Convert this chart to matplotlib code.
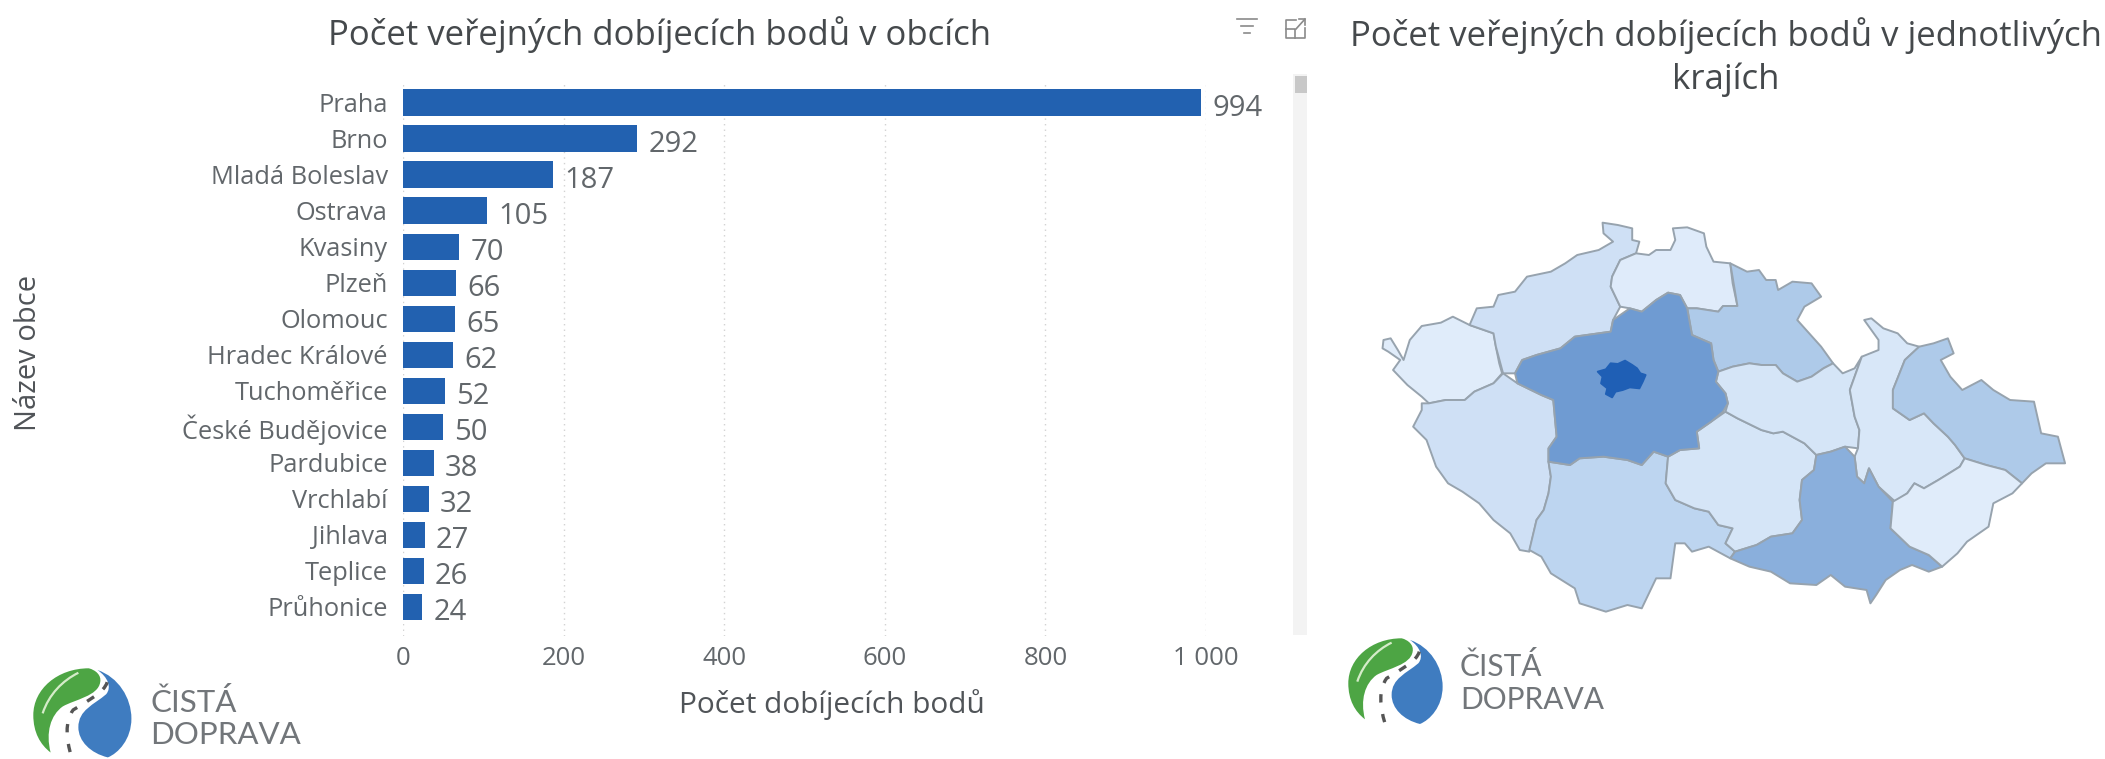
import matplotlib
matplotlib.use("Agg")
import matplotlib.pyplot as plt
from matplotlib.patches import Polygon, PathPatch
from matplotlib.path import Path

plt.rcParams["font.family"] = ["Open Sans", "DejaVu Sans"]

TEXT = "#62676b"
TITLE = "#45494c"
LABEL = "#505458"
BAR = "#2261b0"

cities = ["Praha", "Brno", "Mladá Boleslav", "Ostrava", "Kvasiny", "Plzeň", "Olomouc", "Hradec Králové",
          "Tuchoměřice", "České Budějovice", "Pardubice", "Vrchlabí", "Jihlava", "Teplice", "Průhonice"]
points = [994, 292, 187, 105, 70, 66, 65, 62, 52, 50, 38, 32, 27, 26, 24]
x_ticks = [0, 200, 400, 600, 800, 1000]
x_tick_labels = ["0", "200", "400", "600", "800", "1 000"]

# region outlines, units are the map panel's own
karlovarsky = [(70, 420), (85, 415), (100, 450), (112, 480), (125, 420), (150, 378), (190, 368), (215, 350), (250, 375), (300, 400), (305, 440), (312, 490), (318, 520), (300, 550), (260, 575), (240, 600), (200, 600), (165, 610), (150, 590), (120, 555), (90, 510), (105, 480), (80, 455), (68, 445)]
ustecky = [(250, 375), (265, 325), (300, 320), (310, 285), (345, 275), (370, 230), (420, 215), (450, 190), (475, 165), (520, 150), (550, 125), (530, 100), (528, 68), (560, 75), (590, 85), (590, 120), (605, 125), (598, 160), (565, 180), (548, 230), (545, 260), (565, 320), (550, 360), (545, 395), (470, 410), (440, 445), (390, 465), (360, 480), (345, 520), (320, 520), (305, 440), (300, 400)]
liberecky = [(565, 180), (598, 160), (625, 165), (640, 150), (670, 150), (680, 120), (675, 85), (705, 82), (740, 100), (745, 140), (760, 185), (795, 190), (800, 250), (810, 318), (780, 318), (770, 335), (725, 325), (705, 325), (690, 285), (665, 278), (640, 300), (610, 335), (585, 325), (565, 320), (545, 260), (548, 230)]
kralovehradecky = [(795, 190), (830, 215), (855, 210), (870, 240), (890, 240), (895, 270), (925, 245), (965, 250), (985, 290), (950, 320), (935, 360), (960, 400), (985, 440), (1010, 490), (990, 505), (965, 530), (935, 545), (905, 520), (890, 495), (860, 495), (835, 490), (800, 500), (770, 515), (760, 480), (755, 430), (715, 405), (705, 325), (725, 325), (770, 335), (780, 318), (810, 318)]
stredocesky = [(345, 520), (360, 480), (390, 465), (440, 445), (470, 410), (545, 395), (550, 360), (585, 325), (610, 335), (640, 300), (665, 278), (690, 285), (705, 325), (715, 405), (755, 430), (760, 480), (770, 515), (765, 545), (785, 580), (790, 610), (780, 635), (755, 665), (725, 695), (730, 745), (690, 750), (665, 770), (635, 755), (610, 795), (580, 780), (530, 770), (480, 775), (460, 795), (415, 785), (415, 745), (432, 710), (425, 600), (400, 585), (350, 550)]
praha = [(518, 515), (535, 508), (545, 490), (560, 492), (575, 482), (590, 495), (600, 505), (607, 520), (618, 525), (612, 545), (605, 565), (585, 562), (570, 570), (555, 575), (548, 592), (535, 582), (538, 565), (525, 550), (528, 530)]
plzensky = [(150, 610), (165, 610), (200, 600), (240, 600), (260, 575), (300, 550), (320, 520), (350, 550), (400, 585), (425, 600), (432, 710), (415, 745), (415, 785), (420, 830), (415, 880), (405, 930), (390, 960), (375, 1055), (355, 1050), (335, 1000), (300, 960), (270, 910), (235, 875), (205, 850), (180, 800), (160, 720), (132, 680), (150, 630)]
jihocesky = [(415, 785), (460, 795), (480, 775), (530, 770), (580, 780), (610, 795), (635, 755), (665, 770), (660, 850), (680, 900), (720, 925), (750, 935), (770, 975), (800, 985), (785, 1030), (805, 1055), (795, 1075), (750, 1040), (715, 1055), (700, 1030), (680, 1030), (670, 1135), (640, 1135), (625, 1180), (610, 1225), (580, 1215), (535, 1235), (480, 1210), (470, 1165), (420, 1120), (400, 1070), (375, 1050), (390, 960), (405, 930), (415, 880), (420, 830)]
vysocina = [(665, 770), (690, 750), (730, 745), (725, 695), (755, 665), (785, 635), (810, 655), (860, 690), (885, 700), (905, 695), (950, 730), (975, 765), (970, 810), (945, 840), (940, 900), (945, 960), (925, 1000), (880, 1010), (850, 1035), (805, 1055), (785, 1030), (800, 985), (770, 975), (750, 935), (720, 925), (680, 900), (660, 850)]
pardubicky = [(770, 515), (800, 500), (835, 490), (860, 495), (890, 495), (905, 520), (935, 545), (965, 530), (990, 505), (1010, 490), (1030, 520), (1055, 505), (1070, 470), (1045, 570), (1055, 650), (1065, 690), (1062, 745), (1035, 740), (1005, 755), (975, 765), (950, 730), (905, 695), (885, 700), (860, 690), (810, 655), (785, 635), (790, 610), (785, 580), (765, 545)]
olomoucky = [(1075, 360), (1090, 355), (1115, 385), (1145, 400), (1165, 430), (1190, 440), (1160, 480), (1135, 570), (1135, 625), (1170, 660), (1200, 640), (1220, 670), (1250, 710), (1265, 735), (1285, 775), (1275, 800), (1230, 840), (1200, 865), (1180, 850), (1165, 880), (1140, 905), (1105, 860), (1085, 805), (1075, 850), (1060, 830), (1055, 770), (1062, 745), (1065, 690), (1055, 650), (1045, 570), (1070, 470), (1105, 450), (1105, 420)]
moravskoslezsky = [(1190, 440), (1220, 430), (1250, 415), (1262, 460), (1235, 480), (1255, 530), (1280, 570), (1320, 540), (1345, 570), (1380, 600), (1430, 605), (1445, 700), (1480, 710), (1495, 790), (1455, 790), (1425, 820), (1405, 850), (1370, 810), (1330, 795), (1285, 775), (1265, 735), (1250, 710), (1220, 670), (1200, 640), (1170, 660), (1135, 625), (1135, 570), (1160, 480)]
jihomoravsky = [(975, 765), (1005, 755), (1035, 740), (1055, 770), (1060, 830), (1075, 850), (1085, 805), (1105, 860), (1135, 905), (1130, 985), (1170, 1040), (1210, 1065), (1238, 1100), (1210, 1115), (1175, 1095), (1150, 1110), (1120, 1140), (1100, 1185), (1088, 1210), (1080, 1170), (1035, 1160), (1005, 1125), (975, 1155), (920, 1150), (880, 1115), (835, 1100), (795, 1075), (805, 1055), (850, 1035), (880, 1010), (925, 1000), (945, 960), (940, 900), (945, 840), (970, 810)]
zlinsky = [(1285, 775), (1330, 795), (1370, 810), (1405, 850), (1385, 880), (1345, 910), (1335, 980), (1290, 1025), (1270, 1060), (1238, 1100), (1210, 1065), (1170, 1040), (1130, 985), (1135, 905), (1165, 880), (1180, 850), (1200, 865), (1230, 840), (1275, 800)]

regions = [karlovarsky, ustecky, liberecky, kralovehradecky, plzensky, jihocesky, vysocina, pardubicky,
           olomoucky, moravskoslezsky, jihomoravsky, zlinsky, stredocesky, praha]
region_colors = ["#e0ecfa", "#cfe0f5", "#dfebfa", "#aecae9", "#cfe0f5", "#bdd5f0", "#d5e5f7", "#d5e5f7",
                 "#d8e7f8", "#aecae9", "#8aafdc", "#e0ecfa", "#6f9bd2", "#1f5fb5"]

# logo shapes as bezier runs: first point, then three points per curve
logo_blue = [(270, 60), (330, 80), (368, 140), (368, 200), (368, 260), (330, 300), (300, 312), (250, 300), (215, 265),
             (215, 225), (215, 175), (260, 160), (295, 130), (312, 110), (300, 80), (270, 60)]
logo_green = [(245, 55), (155, 55), (85, 115), (85, 190), (85, 240), (105, 275), (135, 298), (120, 240), (135, 190),
              (170, 165), (205, 145), (272, 135), (278, 95), (282, 75), (265, 60), (245, 55)]
logo_leaf = [(112, 185), (130, 130), (170, 90), (215, 68)]
logo_road = [(298, 95), (290, 125), (240, 150), (200, 175), (175, 210), (180, 260), (195, 310)]


def bezier(points_px):
    codes = [Path.MOVETO] + [Path.CURVE4] * (len(points_px) - 1)
    return Path(points_px, codes)


def draw_logo(ax, x0, y0, scale, text_x, base1, base2, font):
    def conv(shape):
        return [(x0 + (u - 85) * scale / 3, y0 + (v - 55) * scale / 3) for u, v in shape]

    ax.add_patch(PathPatch(bezier(conv(logo_blue)), fc="#3f7cc0", ec="none"))
    ax.add_patch(PathPatch(bezier(conv(logo_green)), fc="#4da544", ec="none"))
    ax.add_patch(PathPatch(bezier(conv(logo_leaf)), fc="none", ec="#d5ecc9", lw=1.6))
    ax.add_patch(PathPatch(bezier(conv(logo_road)), fc="none", ec="#555555", lw=2.4, linestyle=(0, (2.5, 3.5))))
    for word, base in (("ČISTÁ", base1), ("DOPRAVA", base2)):
        ax.text(text_x, base, word, fontsize=font, color="#72767a", va="baseline", ha="left",
                family=["Lato", "DejaVu Sans"])


fig = plt.figure(figsize=(21.05, 7.59), dpi=100)

# bar panel, placed so the axis matches the pixel layout
ax = fig.add_axes([403 / 2105, 1 - 636 / 759, (1206 - 403) / 2105, (636 - 82) / 759])
y = list(range(len(cities)))
ax.barh(y, points, height=0.735, color=BAR)
ax.set_ylim(14.81, -0.575)
ax.set_xlim(0, 1000)
ax.set_yticks(y, cities)
ax.set_xticks(x_ticks, x_tick_labels)
ax.tick_params(axis="y", length=0, labelsize=18.3, labelcolor=TEXT, pad=11)
ax.tick_params(axis="x", length=0, labelsize=18.5, labelcolor=TEXT, pad=7)
ax.grid(axis="x", color="#d2d2d2", linestyle=(0, (1, 3)), linewidth=1)
ax.set_axisbelow(True)
for spine in ax.spines.values():
    spine.set_visible(False)
for i, v in enumerate(points):
    ax.annotate(str(v), (v, i), xytext=(8, -4), textcoords="offset points", va="center", ha="left",
                fontsize=21, color=TEXT, annotation_clip=False)

# everything else is placed on a full-figure overlay in pixels
over = fig.add_axes([0, 0, 1, 1], facecolor="none")
over.set_xlim(0, 2105)
over.set_ylim(759, 0)
over.axis("off")

over.text(660, 35, "Počet veřejných dobíjecích bodů v obcích", fontsize=25, color=TITLE, ha="center", va="center")
over.text(1726, 57, "Počet veřejných dobíjecích bodů v jednotlivých\nkrajích", fontsize=25, color=TITLE,
          ha="center", va="center", linespacing=1.32)
over.text(832, 705, "Počet dobíjecích bodů", fontsize=21.5, color=LABEL, ha="center", va="center")
over.text(29, 353, "Název obce", fontsize=21, color=LABEL, ha="center", va="center", rotation=90)

# scrollbar
over.fill_between([1293, 1307], 74, 635, color="#f3f3f3", lw=0)
over.fill_between([1295, 1307], 76, 93, color="#c8c8c8", lw=0)

# filter and expand icons
for hw, yy in ((10, 19), (6, 26), (3, 33)):
    over.plot([1247 - hw, 1247 + hw], [yy, yy], color="#8a8a8a", lw=1.2)
over.plot([1296, 1286, 1286, 1305, 1305], [20, 20, 38, 38, 28], color="#8a8a8a", lw=1.2)
over.plot([1286, 1295, 1295], [29, 29, 38], color="#8a8a8a", lw=1.2)
over.plot([1296, 1305], [29, 19], color="#8a8a8a", lw=1.2)
over.plot([1299, 1305, 1305], [19, 19, 25], color="#8a8a8a", lw=1.2)

# map panel
m = fig.add_axes([1350 / 2105, 1 - 620 / 759, 750 / 2105, 420 / 759], facecolor="none")
m.set_xlim(0, 1568)
m.set_ylim(1260, 0)
m.axis("off")
for outline, color in zip(regions, region_colors):
    edge = color if outline is praha else "#97a3ae"
    m.add_patch(Polygon(outline, closed=True, fc=color, ec=edge, lw=1.4, joinstyle="round"))

draw_logo(over, 33.3, 668.3, 1.04, 150, 712, 744, 22.5)
draw_logo(over, 1348.3, 638.3, 1.0, 1460, 676, 709, 21.5)

fig.savefig("out.png", dpi=100)
